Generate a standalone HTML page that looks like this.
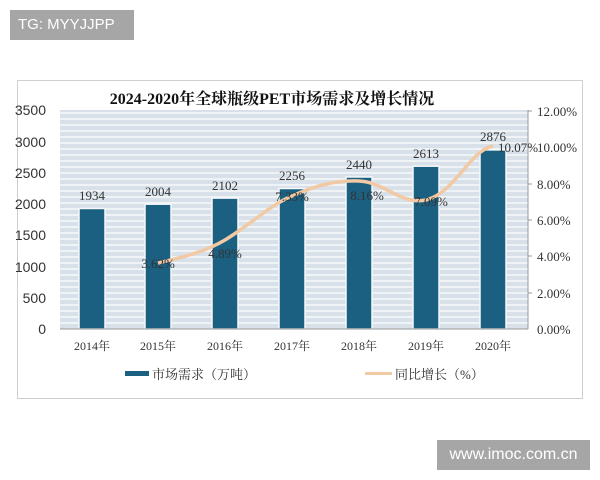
<!DOCTYPE html>
<html><head><meta charset="utf-8"><style>
body{margin:0;width:600px;height:480px;background:#fff;position:relative;overflow:hidden;font-family:"Liberation Serif","Noto Serif CJK SC",serif}
.tag{position:absolute;background:#a6a6a6;color:#fff;font-family:"Liberation Sans",sans-serif}
</style></head><body>
<div class="tag" style="left:10px;top:10px;width:124px;height:30px;line-height:30px;font-size:15px;padding-left:8px;box-sizing:border-box">TG: MYYJJPP</div>
<div class="tag" style="left:437px;top:440px;width:153px;height:30px;line-height:30px;font-size:16px;text-align:center">www.imoc.com.cn</div>
<svg width="600" height="480" style="position:absolute;left:0;top:0" font-family="Liberation Serif, Noto Serif CJK SC, serif">
<rect x="17.5" y="80.5" width="565" height="318" fill="none" stroke="#cfcfcf"/>
<text x="272" y="104" font-size="16" font-weight="bold" text-anchor="middle" fill="#111">2024-2020年全球瓶级PET市场需求及增长情况</text>
<rect x="60" y="110" width="468" height="219" fill="#d8e1e9"/>
<g stroke="#f7f9fb" stroke-width="1.4">
<line x1="60" x2="528" y1="113" y2="113"/><line x1="60" x2="528" y1="119" y2="119"/><line x1="60" x2="528" y1="125" y2="125"/><line x1="60" x2="528" y1="131" y2="131"/><line x1="60" x2="528" y1="137" y2="137"/><line x1="60" x2="528" y1="143" y2="143"/><line x1="60" x2="528" y1="149" y2="149"/><line x1="60" x2="528" y1="155" y2="155"/><line x1="60" x2="528" y1="161" y2="161"/><line x1="60" x2="528" y1="167" y2="167"/><line x1="60" x2="528" y1="173" y2="173"/><line x1="60" x2="528" y1="179" y2="179"/><line x1="60" x2="528" y1="185" y2="185"/><line x1="60" x2="528" y1="191" y2="191"/><line x1="60" x2="528" y1="197" y2="197"/><line x1="60" x2="528" y1="203" y2="203"/><line x1="60" x2="528" y1="209" y2="209"/><line x1="60" x2="528" y1="215" y2="215"/><line x1="60" x2="528" y1="221" y2="221"/><line x1="60" x2="528" y1="227" y2="227"/><line x1="60" x2="528" y1="233" y2="233"/><line x1="60" x2="528" y1="239" y2="239"/><line x1="60" x2="528" y1="245" y2="245"/><line x1="60" x2="528" y1="251" y2="251"/><line x1="60" x2="528" y1="257" y2="257"/><line x1="60" x2="528" y1="263" y2="263"/><line x1="60" x2="528" y1="269" y2="269"/><line x1="60" x2="528" y1="275" y2="275"/><line x1="60" x2="528" y1="281" y2="281"/><line x1="60" x2="528" y1="287" y2="287"/><line x1="60" x2="528" y1="293" y2="293"/><line x1="60" x2="528" y1="299" y2="299"/><line x1="60" x2="528" y1="305" y2="305"/><line x1="60" x2="528" y1="311" y2="311"/><line x1="60" x2="528" y1="317" y2="317"/><line x1="60" x2="528" y1="323" y2="323"/>
</g>
<g fill="#1b6080" stroke="#f4f8fa" stroke-width="1.5">
<rect x="79" y="208.5" width="26" height="120.5"/>
<rect x="145" y="204.2" width="26" height="124.8"/>
<rect x="212" y="198.1" width="26" height="130.9"/>
<rect x="279" y="188.5" width="26" height="140.5"/>
<rect x="346" y="177" width="26" height="152"/>
<rect x="413" y="166.2" width="26" height="162.8"/>
<rect x="480" y="149.9" width="26" height="179.1"/>
</g>
<line x1="60" x2="528" y1="329" y2="329" stroke="#999"/>
<line x1="528" x2="528" y1="110" y2="329" stroke="#999"/>
<g stroke="#999"><line x1="528" x2="532" y1="111" y2="111"/><line x1="528" x2="532" y1="147" y2="147"/><line x1="528" x2="532" y1="184" y2="184"/><line x1="528" x2="532" y1="220" y2="220"/><line x1="528" x2="532" y1="256" y2="256"/><line x1="528" x2="532" y1="293" y2="293"/></g>
<path d="M158,263 C180,258 205,252 225,240 C250,225 270,205 292,196 C315,186 335,180 359,181 C385,182 400,205 426,200 C455,193 470,150 493,146" fill="none" stroke="#f1c9a5" stroke-width="3.5"/>
<g font-size="14" fill="#333" text-anchor="end" font-family="Liberation Sans, sans-serif">
<text x="46" y="115">3500</text><text x="46" y="147">3000</text><text x="46" y="178">2500</text><text x="46" y="209">2000</text><text x="46" y="240">1500</text><text x="46" y="272">1000</text><text x="46" y="303">500</text><text x="46" y="334">0</text>
</g>
<g font-size="13" fill="#333">
<text x="537" y="116">12.00%</text><text x="537" y="152">10.00%</text><text x="537" y="189">8.00%</text><text x="537" y="225">6.00%</text><text x="537" y="261">4.00%</text><text x="537" y="298">2.00%</text><text x="537" y="334">0.00%</text>
</g>
<g font-size="13" fill="#333" text-anchor="middle">
<text x="92" y="200">1934</text><text x="158" y="196">2004</text><text x="225" y="190">2102</text><text x="292" y="180">2256</text><text x="359" y="169">2440</text><text x="426" y="158">2613</text><text x="493" y="141">2876</text>
<text x="158" y="268">3.62%</text><text x="225" y="258">4.89%</text><text x="292" y="201">7.33%</text><text x="367" y="200">8.16%</text><text x="431" y="206">7.09%</text><text x="518" y="152">10.07%</text>
</g>
<g font-size="12" fill="#333" text-anchor="middle">
<text x="92" y="350">2014年</text><text x="158" y="350">2015年</text><text x="225" y="350">2016年</text><text x="292" y="350">2017年</text><text x="359" y="350">2018年</text><text x="426" y="350">2019年</text><text x="493" y="350">2020年</text>
</g>
<rect x="125" y="371" width="24" height="5" fill="#1b6080"/>
<text x="152" y="379" font-size="13" fill="#333">市场需求（万吨）</text>
<line x1="365" x2="392" y1="373.5" y2="373.5" stroke="#f1c9a5" stroke-width="3"/>
<text x="395" y="379" font-size="13" fill="#333">同比增长（%）</text>
</svg>
</body></html>
